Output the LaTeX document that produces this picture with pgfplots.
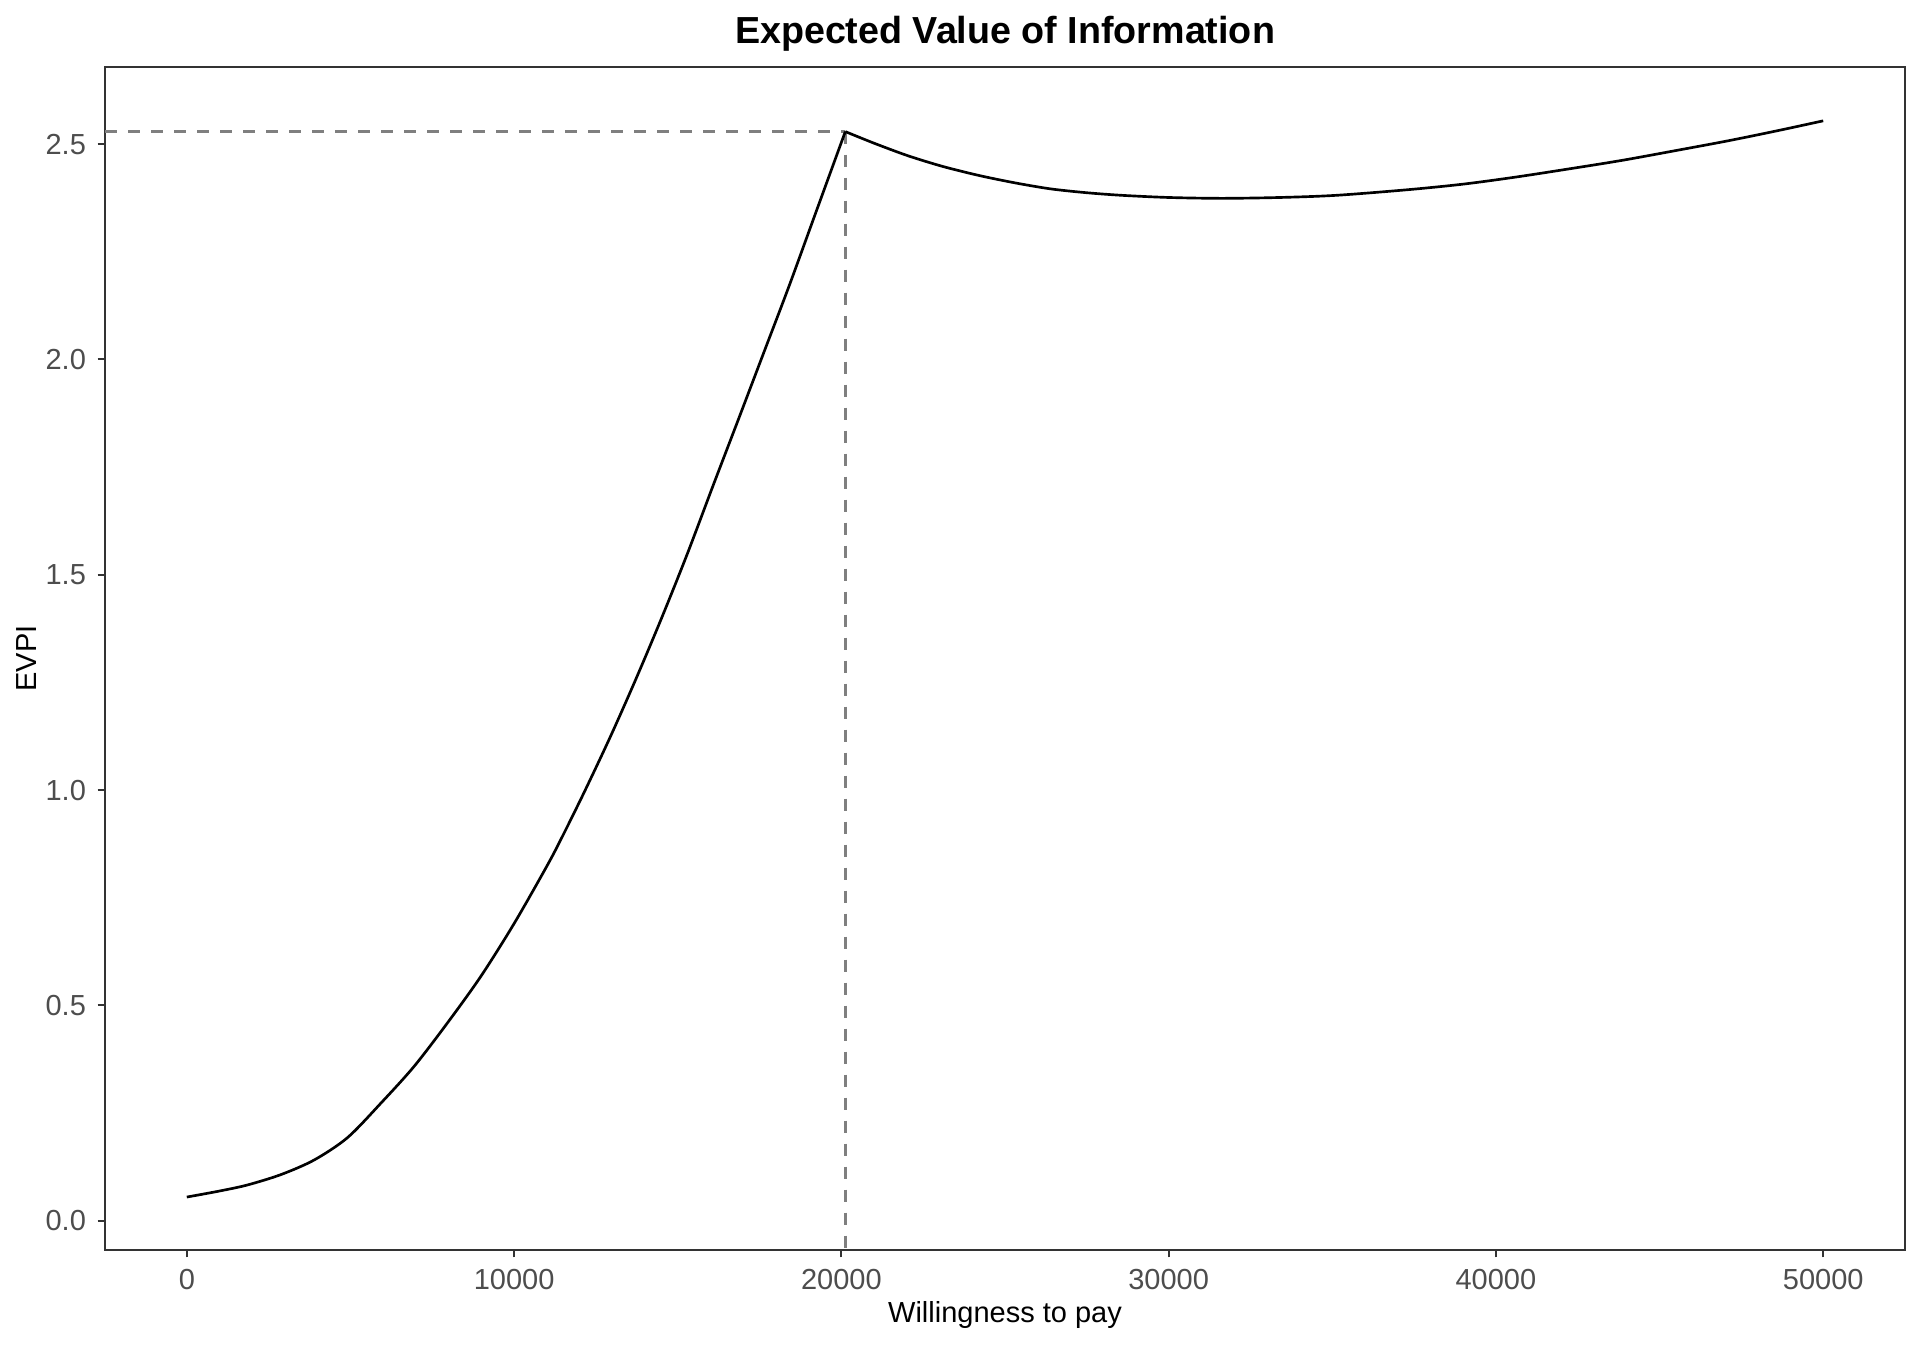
\documentclass[border=0pt]{standalone}
\usepackage{pgfplots}
\pgfplotsset{compat=1.18}
\usepackage{fontspec}
\setmainfont{Liberation Sans}
\definecolor{gray20}{HTML}{333333}
\definecolor{gray30}{HTML}{4D4D4D}
\definecolor{gray50}{HTML}{7F7F7F}
\pgfplotstableread{
x y
0 0.055
1000 0.069
1850 0.083
2870 0.107
3890 0.141
4910 0.193
5930 0.273
6940 0.358
7960 0.459
8980 0.567
10000 0.690
11020 0.826
11500 0.896
12180 1.001
12960 1.127
13740 1.261
14510 1.400
15290 1.548
16070 1.705
16850 1.860
17630 2.016
18410 2.172
19190 2.335
20120 2.529
}\evpiup
\pgfplotstableread{
x y
20120 2.529
21000 2.502
22030 2.473
23100 2.448
24210 2.427
25300 2.410
26390 2.396
27500 2.387
28570 2.381
30000 2.376
31630 2.374
33400 2.376
35120 2.381
37300 2.394
39000 2.407
40570 2.423
42200 2.442
43840 2.462
45500 2.485
47120 2.508
48600 2.531
50000 2.554
}\evpidown
\begin{document}
\begin{tikzpicture}
\begin{axis}[
 scale only axis, width=540bp, height=354.9bp,
 xmin=-2500, xmax=52500, ymin=-0.068, ymax=2.679,
 axis line style={gray20, line width=0.6bp},
 every tick/.style={gray20, line width=0.6bp},
 xtick={0,10000,20000,30000,40000,50000},
 ytick={0,0.5,1,1.5,2,2.5},
 tick align=outside, major tick length=2.2bp,
 xtick pos=bottom, ytick pos=left,
 scaled x ticks=false, scaled y ticks=false,
 /pgf/number format/assume math mode=true,
 ticklabel style={font=\fontsize{8.7bp}{10bp}\selectfont, text=gray30},
 x tick label style={/pgf/number format/1000 sep={}},
 y tick label style={/pgf/number format/.cd, fixed, fixed zerofill, precision=1},
 xlabel={Willingness to pay}, ylabel={EVPI},
 xlabel style={font=\fontsize{8.7bp}{10bp}\selectfont, at={(axis description cs:0.5,-0.0609)}, anchor=base},
 ylabel style={font=\fontsize{8.7bp}{10bp}\selectfont, at={(axis description cs:-0.0383,0.5)}, anchor=base},
 title={Expected Value of Information},
 title style={font=\fontsize{11.3bp}{13bp}\selectfont\bfseries, at={(axis description cs:0.5,1.0034)}, anchor=base},
]
\coordinate (SW) at (rel axis cs:0,0);
\coordinate (NE) at (rel axis cs:1,1);
\addplot[gray50, line width=0.8bp, dash pattern=on 3.6bp off 3.3bp] coordinates {(-2500,2.529) (20120,2.529)};
\addplot[gray50, line width=0.8bp, dash pattern=on 3.6bp off 3.3bp] coordinates {(20120,2.529) (20120,-0.068)};
\addplot[black, line width=0.8bp, smooth, tension=0.5, line join=miter] table[x=x,y=y] {\evpiup};
\addplot[black, line width=0.8bp, smooth, tension=0.5, line join=miter] table[x=x,y=y] {\evpidown};
\end{axis}
\pgfresetboundingbox
\path[use as bounding box] ([shift={(-31.5bp,-28.2bp)}]SW) rectangle ([shift={(4.5bp,20.1bp)}]NE);
\end{tikzpicture}
\end{document}
